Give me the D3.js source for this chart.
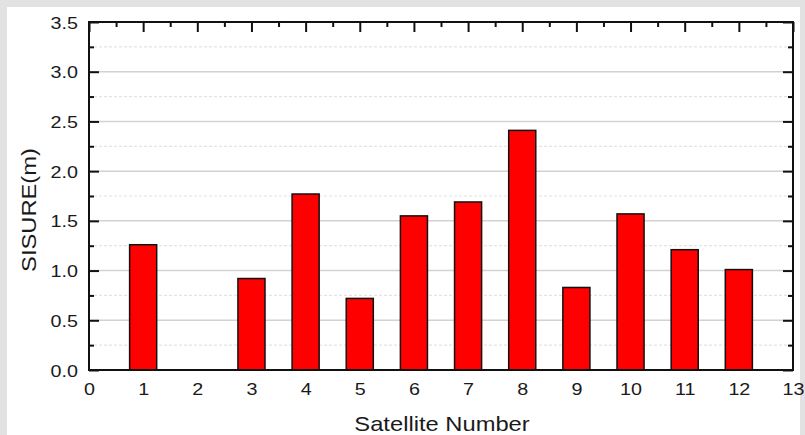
<!DOCTYPE html>
<html>
<head>
<meta charset="utf-8">
<script src="https://cdn.jsdelivr.net/npm/d3@7"></script>
<style>
  body { margin: 0; background: #e2e2e2; }
  #chart { width: 805px; height: 435px; }
  text { font-family: "Liberation Sans", Arial, sans-serif; fill: #1a1a1a; }
</style>
</head>
<body>
<div id="chart"></div>
<script>
// SISURE per satellite
const satellites = [1, 2, 3, 4, 5, 6, 7, 8, 9, 10, 11, 12];
const sisure = [1.26, 0, 0.92, 1.77, 0.72, 1.55, 1.69, 2.41, 0.83, 1.57, 1.21, 1.01];
const xTicks = [0, 1, 2, 3, 4, 5, 6, 7, 8, 9, 10, 11, 12, 13];
const yTicks = [0, 0.5, 1.0, 1.5, 2.0, 2.5, 3.0, 3.5];
const yMinor = [0.25, 0.75, 1.25, 1.75, 2.25, 2.75, 3.25];
const xMinor = [0.5, 1.5, 2.5, 3.5, 4.5, 5.5, 6.5, 7.5, 8.5, 9.5, 10.5, 11.5, 12.5];

const width = 805, height = 435;
const plotL = 89, plotR = 793, plotT = 22, plotB = 370;

const svg = d3.select("#chart").append("svg")
    .attr("width", width)
    .attr("height", height);

// white panel on grey
svg.append("rect")
    .attr("x", 7).attr("y", 7)
    .attr("width", 793).attr("height", 428)
    .attr("fill", "#fff");

const x = d3.scaleLinear().domain([0, 13]).range([plotL, plotR]);
const y = d3.scaleLinear().domain([0, 3.5]).range([plotB, plotT]);

/* GRID */
svg.append("g").selectAll("line")
    .data(yMinor)
    .enter().append("line")
    .attr("x1", plotL).attr("x2", plotR)
    .attr("y1", d => y(d)).attr("y2", d => y(d))
    .attr("stroke", "#e4e4e4")
    .attr("stroke-width", 1.2)
    .attr("stroke-dasharray", "3,2");

svg.append("g").selectAll("line")
    .data(yTicks.slice(1, -1))
    .enter().append("line")
    .attr("x1", plotL).attr("x2", plotR)
    .attr("y1", d => y(d)).attr("y2", d => y(d))
    .attr("stroke", "#d2d2d2")
    .attr("stroke-width", 1.5);

/* BARS */
const barW = x(0.5) - x(0);
svg.append("g").selectAll("rect")
    .data(satellites.map((s, i) => ({ s: s, v: sisure[i] })).filter(d => d.v > 0))
    .enter().append("rect")
    .attr("x", d => x(d.s) - barW / 2)
    .attr("y", d => y(d.v))
    .attr("width", barW)
    .attr("height", d => y(0) - y(d.v))
    .attr("fill", "#ff0000")
    .attr("stroke", "#111")
    .attr("stroke-width", 1.5);

/* AXES */
function styleAxis(g) {
    g.select(".domain").remove();
    g.selectAll("line").attr("stroke", "#111").attr("stroke-width", 2);
}

// left
svg.append("g")
    .attr("transform", `translate(${plotL},0)`)
    .call(d3.axisLeft(y).tickValues(yTicks).tickSize(-10).tickFormat(d3.format(".1f")))
    .call(styleAxis)
    .call(g => g.selectAll("text")
        .attr("x", 0).attr("dy", "0.36em")
        .style("font-size", "17px")
        .attr("text-anchor", "end")
        .attr("transform", "translate(-11,0) scale(1.16,1)"));
svg.append("g")
    .attr("transform", `translate(${plotL},0)`)
    .call(d3.axisLeft(y).tickValues(yMinor).tickSize(-5).tickFormat(""))
    .call(styleAxis);

// right
svg.append("g")
    .attr("transform", `translate(${plotR},0)`)
    .call(d3.axisRight(y).tickValues(yTicks).tickSize(-10).tickFormat(""))
    .call(styleAxis);
svg.append("g")
    .attr("transform", `translate(${plotR},0)`)
    .call(d3.axisRight(y).tickValues(yMinor).tickSize(-5).tickFormat(""))
    .call(styleAxis);

// top
svg.append("g")
    .attr("transform", `translate(0,${plotT})`)
    .call(d3.axisTop(x).tickValues(xTicks).tickSize(-10).tickFormat(""))
    .call(styleAxis);
svg.append("g")
    .attr("transform", `translate(0,${plotT})`)
    .call(d3.axisTop(x).tickValues(xMinor).tickSize(-5).tickFormat(""))
    .call(styleAxis);

// bottom (labels only)
svg.append("g")
    .attr("transform", `translate(0,${plotB})`)
    .call(d3.axisBottom(x).tickValues(xTicks).tickSize(0).tickFormat(d3.format("d")))
    .call(styleAxis)
    .call(g => g.selectAll("text")
        .attr("y", 25).attr("dy", 0)
        .style("font-size", "17px")
        .attr("transform", "scale(1.16,1)"));

// frame
svg.append("rect")
    .attr("x", plotL).attr("y", plotT)
    .attr("width", plotR - plotL).attr("height", plotB - plotT)
    .attr("fill", "none")
    .attr("stroke", "#111")
    .attr("stroke-width", 2);

/* TITLES */
svg.append("text")
    .attr("transform", `translate(442,431) scale(1.13,1)`)
    .attr("text-anchor", "middle")
    .style("font-size", "21px")
    .text("Satellite Number");

svg.append("text")
    .attr("transform", `translate(36,210) rotate(-90) scale(1.13,1)`)
    .attr("text-anchor", "middle")
    .style("font-size", "21px")
    .text("SISURE(m)");
</script>
</body>
</html>
